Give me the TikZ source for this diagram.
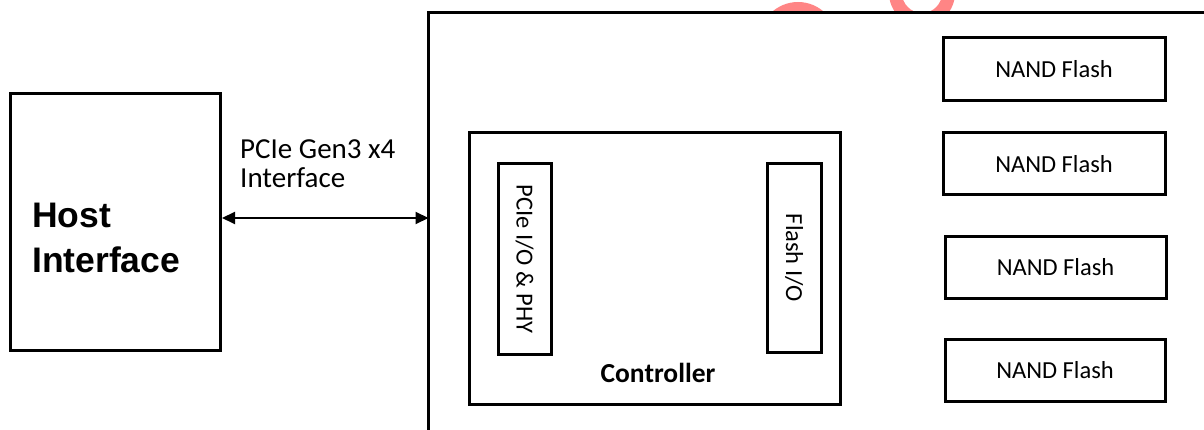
\documentclass[tikz,border=0pt]{standalone}
\usepackage{fontspec}
\setmainfont{Carlito}
\newfontfamily\hostfont{Liberation Sans}
\usetikzlibrary{arrows.meta}
\definecolor{wm}{HTML}{FF8585}
\tikzset{
  box/.style={draw=black, line width=3pt, fill=white, inner sep=0pt},
  nandbox/.style={box, minimum width=222pt, minimum height=62pt, font=\fontsize{24.5}{28}\selectfont},
  iobox/.style={box, rotate=-90, font=\fontsize{24.5}{28}\selectfont},
  lbl/.style={inner sep=0pt, align=left},
  conn/.style={line width=2pt, {Stealth[length=13pt,width=12pt,inset=0pt]}-{Stealth[length=13pt,width=12pt,inset=0pt]}}
}
\begin{document}
\begin{tikzpicture}[x=1pt,y=-1pt]
\useasboundingbox (0,0) rectangle (1204,430);
% watermark fragments
\begin{scope}
\clip (0,0) rectangle (1204,12);
\fill[wm] (798,41) circle[radius=39];
\fill[wm, even odd rule] (922,-7) circle[radius=33] (922,-7) circle[radius=20];
\end{scope}
% SSD outer box (partly outside the picture)
\coordinate (ssdTL) at (428.5,12.5);
\fill[white] (ssdTL) rectangle (1210,440);
\draw[line width=3pt] (428.5,440) -- (ssdTL) -- (1210,12.5);
\coordinate (ssdL) at (428.5,218);
% host
\node[box, minimum width=210pt, minimum height=257pt] (host) at (115.5,222) {};
\node[lbl, anchor=north west, font=\hostfont\bfseries\fontsize{35.5}{45}\selectfont] (hosttxt) at (32,202.6) {Host\\Interface};
% link label and arrow
\node[lbl, anchor=north west, font=\fontsize{29}{29}\selectfont] (linktxt) at (240,139.3) {PCIe Gen3 x4\\Interface};
\draw[conn] (host.east |- ssdL) -- (ssdL);
% controller
\node[box, minimum width=371pt, minimum height=271pt] (ctrl) at (654.5,268.5) {};
\node[anchor=base, inner sep=0pt, font=\bfseries\fontsize{27.5}{30}\selectfont] (ctrltxt) at (658,382) {Controller};
\node[iobox, minimum width=190pt, minimum height=53pt] (pcieio) at (524.5,259) {PCIe I/O \& PHY};
\node[iobox, minimum width=188pt, minimum height=54pt] (flashio) at (794,258) {Flash I/O};
% NAND
\node[nandbox, minimum height=63pt] (nand1) at (1054,69.5) {NAND Flash};
\node[nandbox] (nand2) at (1054,164) {NAND Flash};
\node[nandbox, minimum width=221pt, minimum height=61pt] (nand3) at (1055.5,267.5) {NAND Flash};
\node[nandbox, minimum width=220pt] (nand4) at (1055,370) {NAND Flash};
\end{tikzpicture}
\end{document}
